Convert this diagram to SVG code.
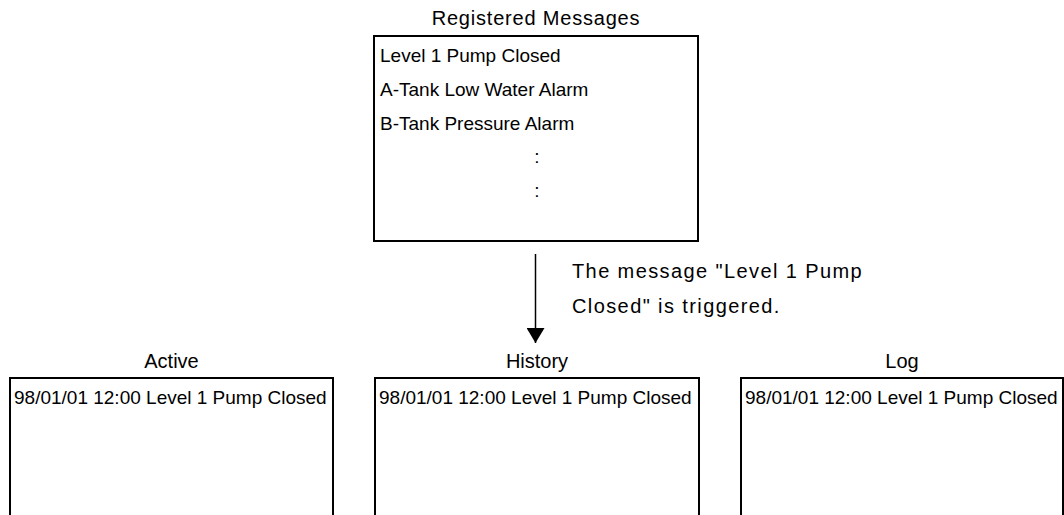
<svg xmlns="http://www.w3.org/2000/svg" width="1064" height="515" viewBox="0 0 1064 515">
<style>
.box{fill:#fff;stroke:#000;stroke-width:2}
.t{font-family:"Liberation Sans",Arial,sans-serif;font-size:19px;fill:#000}
.lbl{font-family:"Liberation Sans",Arial,sans-serif;font-size:20px;fill:#000;text-anchor:middle}
.note{font-family:"Liberation Sans",Arial,sans-serif;font-size:20px;fill:#000;letter-spacing:1.4px}
</style>
<defs>
<marker id="ah" markerWidth="15" markerHeight="18" refX="15" refY="9" orient="auto" markerUnits="userSpaceOnUse" viewBox="0 0 15 18">
<path d="M0,0 L15,9 L0,18 Z" fill="#000"/>
</marker>
</defs>
<rect width="1064" height="515" fill="#fff"/>
<g id="registered">
<text class="lbl" x="536" y="25" style="letter-spacing:0.8px">Registered Messages</text>
<rect class="box" x="374" y="36" width="324" height="205"/>
<text class="t" x="380" y="62">Level 1 Pump Closed</text>
<text class="t" x="380" y="96">A-Tank Low Water Alarm</text>
<text class="t" x="380" y="130">B-Tank Pressure Alarm</text>
<text class="t" x="537" y="163" text-anchor="middle">:</text>
<text class="t" x="537" y="197" text-anchor="middle">:</text>
</g>
<g id="connectors">
<line x1="535.5" y1="254" x2="535.5" y2="343" stroke="#000" stroke-width="1.5" marker-end="url(#ah)"/>
<text class="note" x="572" y="278">The message "Level 1 Pump</text>
<text class="note" x="572" y="313">Closed" is triggered.</text>
</g>
<g id="active">
<text class="lbl" x="171.5" y="368">Active</text>
<rect class="box" x="10" y="378" width="323" height="150"/>
<text class="t" x="14" y="404">98/01/01 12:00 Level 1 Pump Closed</text>
</g>
<g id="history">
<text class="lbl" x="537" y="368">History</text>
<rect class="box" x="375" y="378" width="324" height="150"/>
<text class="t" x="379" y="404">98/01/01 12:00 Level 1 Pump Closed</text>
</g>
<g id="log">
<text class="lbl" x="902" y="368">Log</text>
<rect class="box" x="741" y="378" width="322" height="150"/>
<text class="t" x="745" y="404">98/01/01 12:00 Level 1 Pump Closed</text>
</g>
</svg>
